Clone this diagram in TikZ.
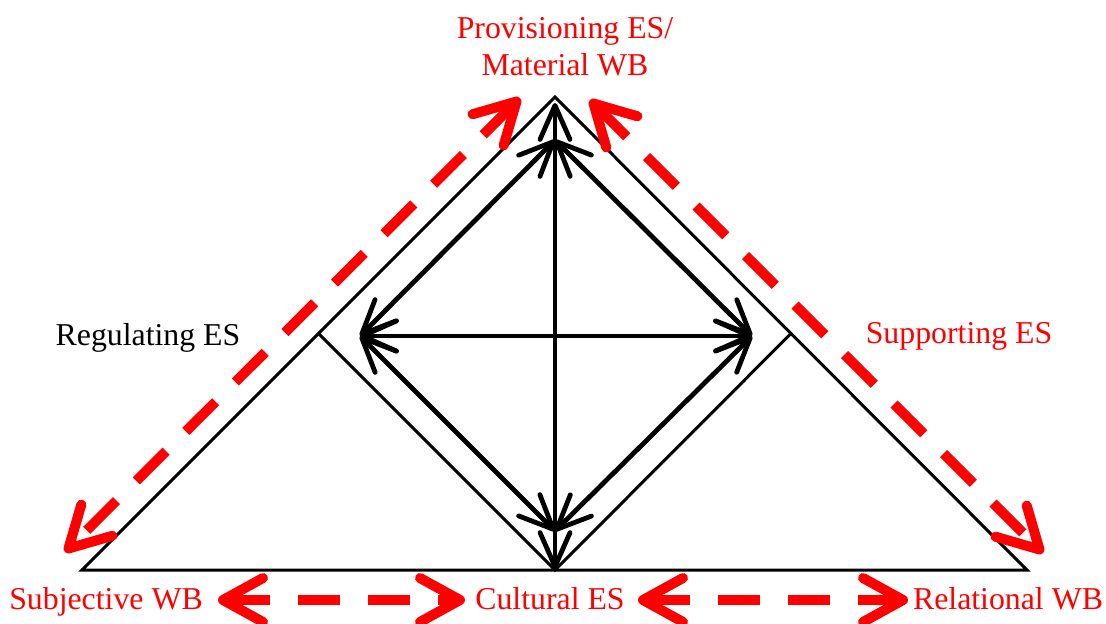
\documentclass[tikz,border=0pt]{standalone}
\usepackage{fontspec}
\setmainfont{Liberation Serif}
\usetikzlibrary{arrows.meta}
\begin{document}
\begin{tikzpicture}[x=0.5pt,y=-0.5pt,
  tri/.style={line width=1.5pt},
  blk/.style={line width=2.4pt,
    {Straight Barb[length=17pt,width=15pt,round]}-{Straight Barb[length=17pt,width=15pt,round]}},
  rdash/.style={red, line width=5pt, dash pattern=on 21pt off 14pt,
    {Straight Barb[length=20pt,width=22pt,round]}-{Straight Barb[length=20pt,width=22pt,round]}},
  lbl/.style={font=\fontsize{15.9}{18.5}\selectfont, inner sep=0pt, anchor=base}]
\useasboundingbox (0,0) rectangle (1106,623);
% triangle
\coordinate (A) at (82,570);
\coordinate (P) at (555,97);
\coordinate (C) at (1027,570);
\coordinate (L) at (318.5,333.5);
\coordinate (R) at (791,333.5);
\coordinate (B) at (555,570);
\draw[tri, line join=miter] (A) -- (P) -- (C) -- cycle;
\draw[tri] (L) -- (B) -- (R);
% diamond of black arrows
\coordinate (T) at (555,140);
\coordinate (DL) at (360,336);
\coordinate (DR) at (752,336);
\coordinate (DB) at (555,531);
\coordinate (VT) at (555,103);
\coordinate (VB) at (555,569);
\draw[blk] (T) -- (DL);
\draw[blk] (T) -- (DR);
\draw[blk] (DL) -- (DB);
\draw[blk] (DR) -- (DB);
\draw[blk] (DL) -- (DR);
\draw[blk] (VT) -- (VB);
% red dashed arrows
\coordinate (RL1) at (520,98);
\coordinate (RL2) at (65,552);
\coordinate (RR1) at (590,100);
\coordinate (RR2) at (1043,553);
\coordinate (BL1) at (218,600);
\coordinate (BL2) at (465,600);
\coordinate (BR1) at (638,600);
\coordinate (BR2) at (908,600);
\draw[rdash] (RL1) -- (RL2);
\draw[rdash] (RR1) -- (RR2);
\draw[rdash] (BL1) -- (BL2);
\draw[rdash] (BR1) -- (BR2);
% labels
\node[lbl, red, align=center] (prov) at (565,75) {Provisioning ES/\\Material WB};
\node[lbl] (reg) at (148,345) {Regulating ES};
\node[lbl, red] (sup) at (959,343) {Supporting ES};
\node[lbl, red] (subj) at (106,609) {Subjective WB};
\node[lbl, red] (cult) at (550,609) {Cultural ES};
\node[lbl, red] (rel) at (1008,609) {Relational WB};
\end{tikzpicture}
\end{document}
